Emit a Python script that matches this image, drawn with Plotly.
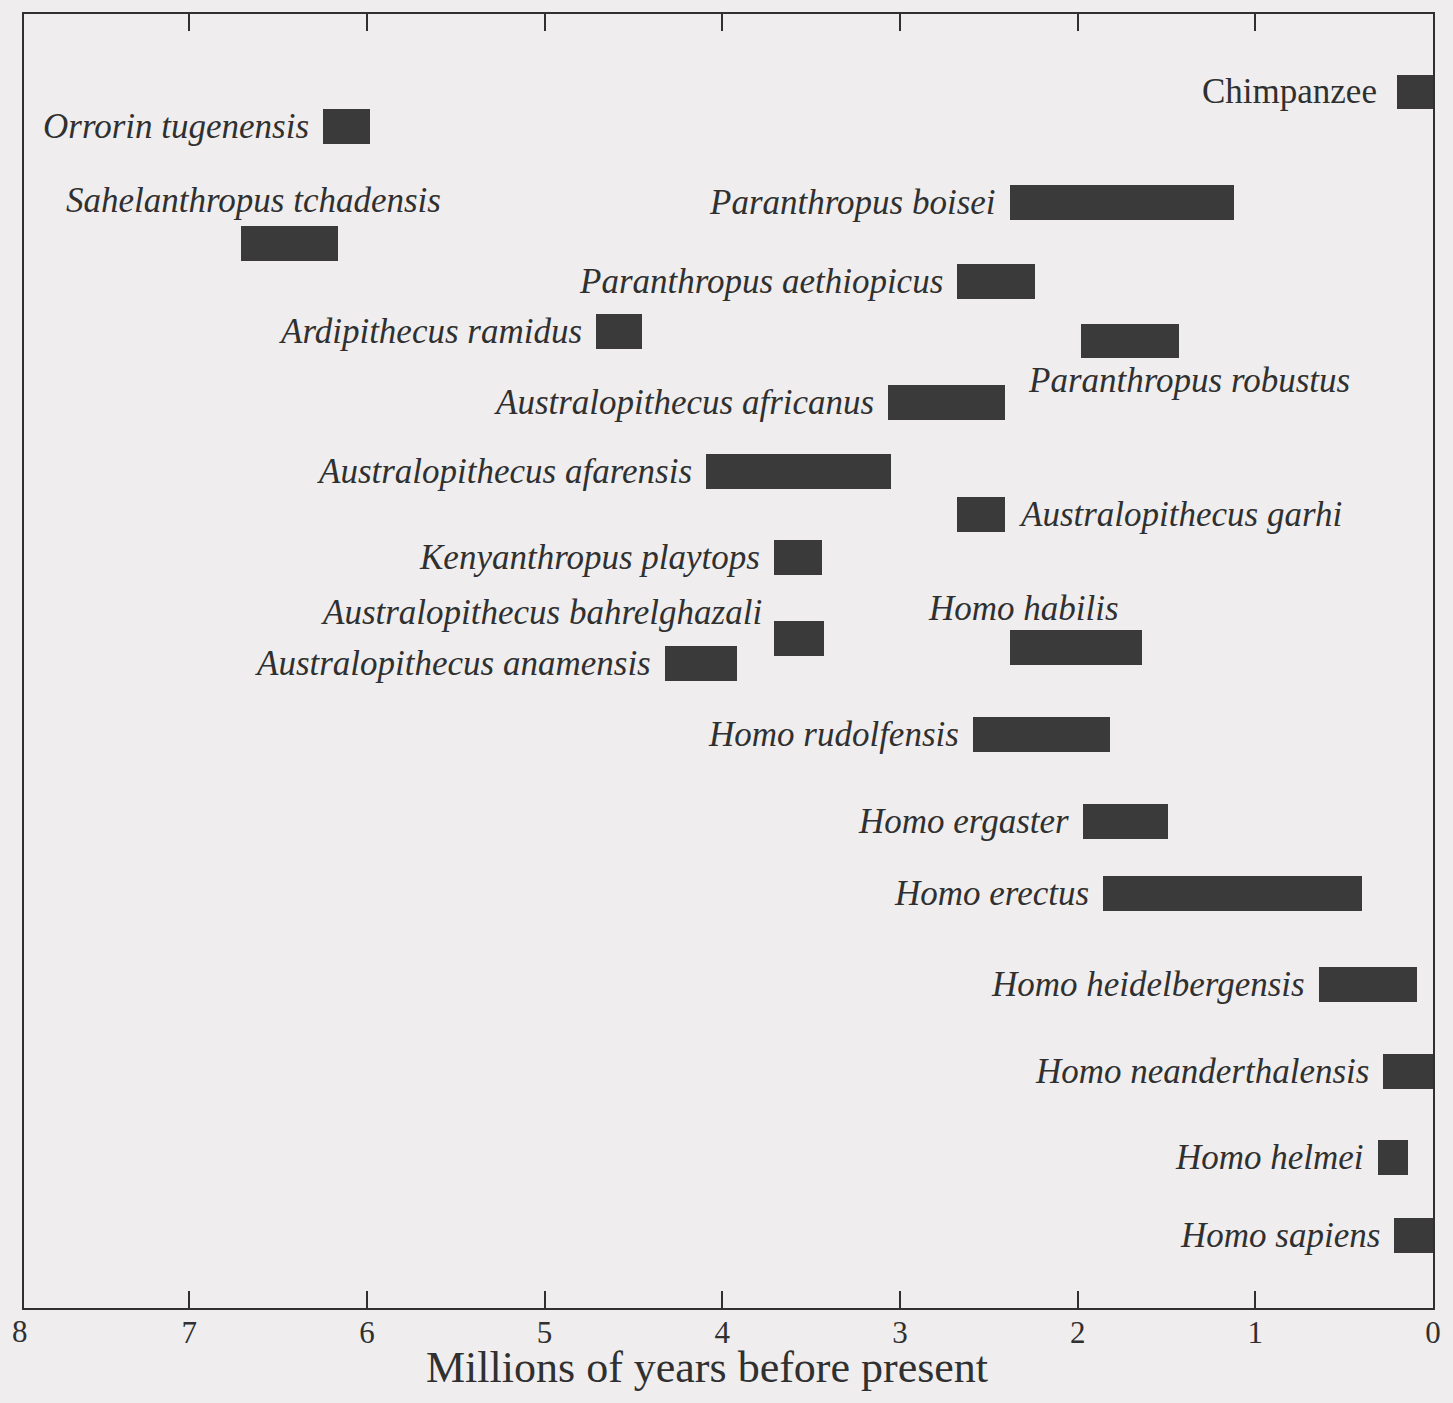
import plotly.graph_objects as go

# ---------------- data ----------------
species = [
    "Chimpanzee", "Orrorin tugenensis", "Sahelanthropus tchadensis",
    "Paranthropus boisei", "Paranthropus aethiopicus", "Ardipithecus ramidus",
    "Paranthropus robustus", "Australopithecus africanus", "Australopithecus afarensis",
    "Australopithecus garhi", "Kenyanthropus playtops", "Australopithecus bahrelghazali",
    "Australopithecus anamensis", "Homo habilis", "Homo rudolfensis",
    "Homo ergaster", "Homo erectus", "Homo heidelbergensis",
    "Homo neanderthalensis", "Homo helmei", "Homo sapiens",
]
start_mya = [0.20, 6.25, 6.71, 2.38, 2.68, 4.71, 1.98, 3.07, 4.09, 2.68, 3.71,
             3.71, 4.32, 2.38, 2.59, 1.97, 1.86, 0.64, 0.28, 0.31, 0.22]
end_mya = [0.00, 5.98, 6.16, 1.12, 2.24, 4.45, 1.43, 2.41, 3.05, 2.41, 3.44,
           3.43, 3.92, 1.64, 1.82, 1.49, 0.40, 0.09, 0.00, 0.14, 0.00]
italic = [False] + [True] * 20

x_ticks = [8, 7, 6, 5, 4, 3, 2, 1, 0]
x_tick_labels = ["8", "7", "6", "5", "4", "3", "2", "1", "0"]
x_title = "Millions of years before present"

# ---------------- layout helpers (positions only) ----------------
row_pos = [2.23, 3.23, 6.55, 5.40, 7.66, 9.07, 9.35, 11.10, 13.07, 14.30, 15.53,
           17.87, 18.56, 18.10, 20.59, 23.08, 25.14, 27.74, 30.25, 32.69, 34.92]
# label placement: 'left' of bar, 'right' of bar, or free (x, y, xanchor)
label_place = {
    "Sahelanthropus tchadensis": (5.574, 5.32, "right"),
    "Paranthropus robustus": (2.291, 10.47, "left"),
    "Australopithecus bahrelghazali": (3.765, 17.10, "right"),
    "Homo habilis": (2.852, 17.01, "left"),
    "Australopithecus garhi": "right",
}

FONT = "Liberation Serif"
INK = "#303030"
BAR = "#3a3a3a"
PAPER = "#efedee"

fig = go.Figure()
fig.add_trace(go.Bar(
    y=row_pos,
    x=[s - e for s, e in zip(start_mya, end_mya)],
    base=end_mya,
    orientation="h",
    width=1.0,
    marker=dict(color=BAR, line=dict(width=0)),
    showlegend=False,
    hoverinfo="skip",
))

annotations = []
for name, s, e, r, it in zip(species, start_mya, end_mya, row_pos, italic):
    txt = f"<i>{name}</i>" if it else name
    place = label_place.get(name, "left")
    if place == "left":
        ax, ay, xa, xs = s, r, "right", (-18 if not it else -12)
    elif place == "right":
        ax, ay, xa, xs = e, r, "left", 12
    else:
        ax, ay, xa = place
        xs = 0
    annotations.append(dict(
        x=ax, y=ay, xref="x", yref="y", text=txt, showarrow=False,
        xanchor=xa, yanchor="middle", xshift=xs,
        font=dict(family=FONT, size=35, color=INK),
    ))

# tick label "8" sits exactly at the frame's left edge
annotations.append(dict(
    x=0, y=0, xref="paper", yref="paper", text=x_tick_labels[0], showarrow=False,
    xanchor="center", yanchor="top", yshift=-4, xshift=-4,
    font=dict(family=FONT, size=31, color=INK),
))
# axis title
annotations.append(dict(
    x=0.485, y=-0.0456, xref="paper", yref="paper", text=x_title, showarrow=False,
    xanchor="center", yanchor="middle",
    font=dict(family=FONT, size=44, color=INK),
))

fig.update_layout(
    width=1453, height=1403,
    margin=dict(l=24, r=14, t=14, b=95),
    paper_bgcolor=PAPER, plot_bgcolor=PAPER,
    annotations=annotations,
    bargap=0,
)
fig.update_xaxes(
    range=[7.93, 0], tickvals=x_ticks, ticktext=x_tick_labels,
    ticks="inside", ticklen=17, tickwidth=2, tickcolor=INK,
    showline=True, linewidth=2, linecolor=INK, mirror="ticks",
    showgrid=False, zeroline=False,
    ticklabelstandoff=-4,
    tickfont=dict(family=FONT, size=31, color=INK),
)
fig.update_yaxes(
    range=[37, 0], showline=True, linewidth=2, linecolor=INK, mirror=True,
    showticklabels=False, ticks="", showgrid=False, zeroline=False,
)

fig.write_html(
    "out.html",
    config={"displayModeBar": False},
    post_script=(
        "document.body.style.margin='0';"
        "document.body.style.overflow='hidden';"
        f"document.body.style.background='{PAPER}';"
    ),
)
